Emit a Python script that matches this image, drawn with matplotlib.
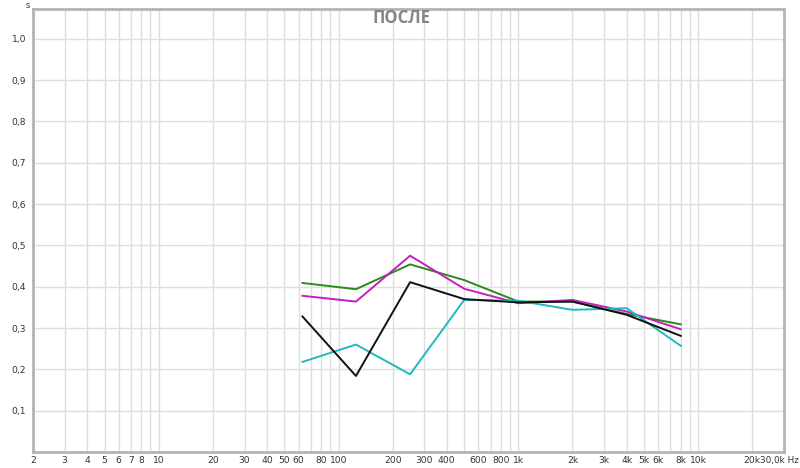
import matplotlib
matplotlib.use("Agg")
import matplotlib.pyplot as plt
from matplotlib.ticker import FixedLocator, FixedFormatter, NullFormatter

freqs = [63, 125, 250, 500, 1000, 2000, 4000, 8000]
green = [0.409, 0.394, 0.454, 0.416, 0.364, 0.364, 0.334, 0.309]
magenta = [0.378, 0.364, 0.475, 0.395, 0.360, 0.368, 0.340, 0.297]
black = [0.328, 0.184, 0.411, 0.370, 0.362, 0.364, 0.332, 0.281]
cyan = [0.218, 0.260, 0.188, 0.368, 0.366, 0.344, 0.348, 0.257]

y_ticks = [0.1, 0.2, 0.3, 0.4, 0.5, 0.6, 0.7, 0.8, 0.9, 1.0]
y_labels = ["0,1", "0,2", "0,3", "0,4", "0,5", "0,6", "0,7", "0,8", "0,9", "1,0"]
x_label_pos = [2, 3, 4, 5, 6, 7, 8, 10, 20, 30, 40, 50, 60, 80, 100, 200, 300, 400,
               600, 800, 1000, 2000, 3000, 4000, 5000, 6000, 8000, 10000, 20000]
x_labels = ["2", "3", "4", "5", "6", "7", "8", "10", "20", "30", "40", "50", "60", "80",
            "100", "200", "300", "400", "600", "800", "1k", "2k", "3k", "4k", "5k", "6k",
            "8k", "10k", "20k"]
end_label = "30,0k Hz"
grid_x = [m * 10 ** e for e in range(0, 5) for m in range(1, 10)
          if 2 < m * 10 ** e <= 20000]

fig = plt.figure(figsize=(8.0, 4.68), dpi=100)
ax = fig.add_axes([33 / 800, 1 - 452 / 468, (784 - 33) / 800, (452 - 9) / 468])
ax.set_xscale("log")
ax.set_xlim(2, 30000)
ax.set_ylim(0, 1.072)

for gx in grid_x:
    ax.axvline(gx, color="#dedede", lw=1.0, zorder=0)
for gy in y_ticks:
    ax.axhline(gy, color="#dedede", lw=1.0, zorder=0)

ax.plot(freqs, green, color="#2a8a1a", lw=1.4, zorder=3)
ax.plot(freqs, magenta, color="#c21fc2", lw=1.4, zorder=3)
ax.plot(freqs, cyan, color="#22b8bd", lw=1.4, zorder=3)
ax.plot(freqs, black, color="#111111", lw=1.4, zorder=4)

ax.xaxis.set_major_locator(FixedLocator(x_label_pos))
ax.xaxis.set_major_formatter(FixedFormatter(x_labels))
ax.xaxis.set_minor_formatter(NullFormatter())
ax.xaxis.set_minor_locator(FixedLocator([]))
ax.yaxis.set_major_locator(FixedLocator(y_ticks))
ax.yaxis.set_major_formatter(FixedFormatter(y_labels))
ax.tick_params(axis="both", length=0, labelsize=6.6, colors="#333333", pad=3)
ax.tick_params(axis="y", pad=5)

fig.text(760 / 800, 1 - 461 / 468, end_label, fontsize=6.4, color="#333333",
         ha="left", va="center")

for sp in ax.spines.values():
    sp.set_color("#b4b4b4")
    sp.set_linewidth(2.0)

fig.text(28 / 800, 1 - 5 / 468, "s", fontsize=6, color="#333333", ha="center", va="center")
fig.text(401 / 800, 1 - 18 / 468, "ПОСЛЕ", fontsize=12, fontweight="bold",
         family=["Open Sans", "DejaVu Sans"],
         color="#858585", ha="center", va="center")

fig.savefig("out.png", dpi=100, facecolor="white")
